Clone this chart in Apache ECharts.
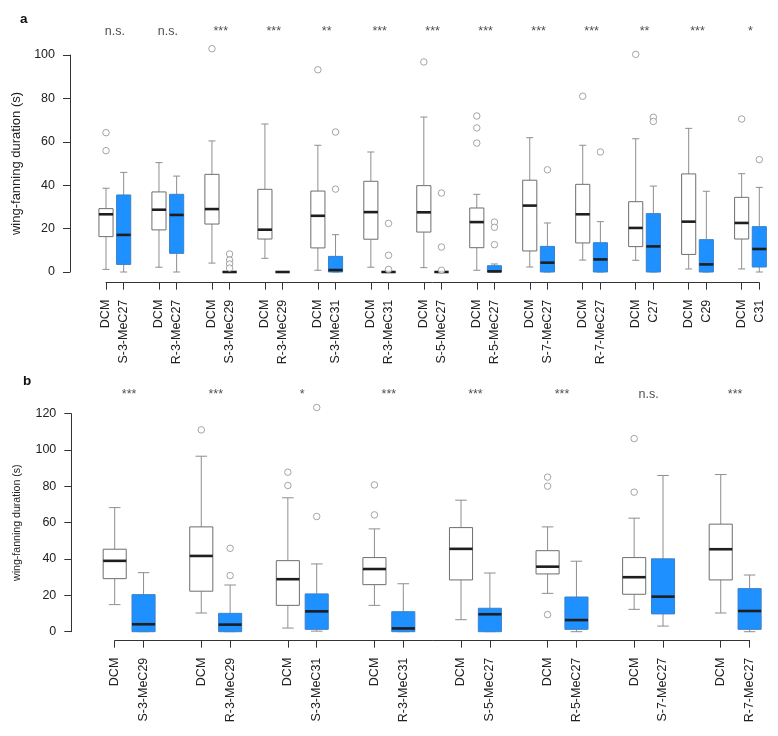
<!DOCTYPE html>
<html><head><meta charset="utf-8">
<script src="https://cdn.jsdelivr.net/npm/echarts@6/dist/echarts.min.js"></script>
<style>html,body{margin:0;padding:0;background:#fff}#c{width:778px;height:736px}</style>
</head><body><div id="c"></div>
<script>
// ---------- Panel a ----------
const treatA = ['S-3-MeC27','R-3-MeC27','S-3-MeC29','R-3-MeC29','S-3-MeC31','R-3-MeC31','S-5-MeC27','R-5-MeC27','S-7-MeC27','R-7-MeC27','C27','C29','C31'];
const sigA = ['n.s.','n.s.','***','***','**','***','***','***','***','***','**','***','*'];
// [min, Q1, median, Q3, max]
const dcmA = [
  [1.2,16.3,26.6,29.2,38.6],
  [2.2,19.4,28.7,36.9,50.4],
  [4.1,22.1,29.0,45.0,60.4],
  [6.3,15.2,19.5,38.1,68.2],
  [0.8,11.1,25.9,37.3,58.4],
  [2.2,15.1,27.6,41.8,55.3],
  [2.0,18.4,27.5,39.8,71.4],
  [0.8,11.2,23.0,29.5,35.8],
  [2.3,9.7,30.6,42.3,61.9],
  [5.5,13.4,26.6,40.4,58.4],
  [5.4,11.7,20.3,32.4,61.4],
  [1.4,8.1,23.2,45.2,66.2],
  [1.4,15.2,22.6,34.4,45.3]
];
const trtA = [
  [0,3.5,17.1,35.5,45.9],
  [0,8.6,26.3,35.8,44.2],
  [0,0,0,0,0],
  [0,0,0,0,0],
  [0,0,0.9,7.2,17.2],
  [0,0,0,0,0],
  [0,0,0,0,0],
  [0,0,0.3,2.9,3.7],
  [0,0,4.3,11.8,22.6],
  [0,0,5.8,13.5,23.2],
  [0,0,11.8,26.9,39.6],
  [0,0,3.5,14.9,37.2],
  [0,2.3,10.6,20.9,39.0]
];
// outliers: [box index (even = DCM, odd = treatment), value]
const outA = [[0,64.2],[0,55.9],[4,102.9],[5,8.3],[5,5.5],[5,3.7],[5,1.8],[8,93.2],[9,64.5],[9,38.2],
  [11,22.4],[11,7.7],[11,1.2],[12,96.8],[13,36.4],[13,11.5],[13,0.8],[14,71.9],[14,66.4],[14,59.4],
  [15,23.0],[15,20.6],[15,12.6],[17,47.1],[18,81.0],[19,55.3],[20,100.3],[21,71.3],[21,69.4],[24,70.5],[25,51.8]];
const ticksA = [0,20,40,60,80,100];

// ---------- Panel b ----------
const treatB = ['S-3-MeC29','R-3-MeC29','S-3-MeC31','R-3-MeC31','S-5-MeC27','R-5-MeC27','S-7-MeC27','R-7-MeC27'];
const sigB = ['***','***','*','***','***','***','n.s.','***'];
const dcmB = [
  [14.9,29.2,39.0,45.4,68.3],
  [10.3,22.3,41.7,57.7,96.6],
  [2.0,14.5,28.9,39.1,73.7],
  [14.5,25.9,34.5,40.8,56.6],
  [6.6,28.5,45.6,57.3,72.4],
  [21.1,31.8,35.8,44.6,57.7],
  [12.3,20.6,30.0,40.8,62.5],
  [10.3,28.5,45.4,59.2,86.5]
];
const trtB = [
  [0,0,4.1,20.4,32.5],
  [0,0,3.9,10.1,25.7],
  [0.3,1.3,11.2,20.8,37.3],
  [0,0,1.8,11.0,26.4],
  [0,0,9.6,12.9,32.3],
  [0,1.3,6.4,19.1,38.8],
  [3.1,9.8,19.3,40.1,86.0],
  [0,1.3,11.4,23.7,31.2]
];
const outB = [[2,111.1],[3,45.9],[3,30.9],[4,87.8],[4,80.5],[5,123.4],[5,63.4],[6,80.8],[6,64.3],
  [10,85.1],[10,80.1],[10,9.4],[12,106.3],[12,76.8]];
const ticksB = [0,20,40,60,80,100,120];

// ---------- build ----------
const FONT = "'Liberation Sans', Arial, sans-serif";
const pos = i => Math.floor(i / 2) * 3 + 1 + (i % 2);

function catLabels(treat) {
  const out = [];
  treat.forEach((t, k) => { out.push('DCM', t); if (k < treat.length - 1) out.push(''); });
  return out;
}
function boxData(dcm, trt) {
  const d = [];
  dcm.forEach((b, k) => { d.push([pos(2 * k)].concat(b, [0])); d.push([pos(2 * k + 1)].concat(trt[k], [1])); });
  return d;
}
function renderBox(params, api) {
  const x = api.value(0), kind = api.value(6);
  const unit = api.size([1, 0])[0];
  const hw = unit * 0.4, cw = unit * 0.2;
  const c = v => api.coord([x, v]);
  const pMin = c(api.value(1)), pQ1 = c(api.value(2)), pMed = c(api.value(3)), pQ3 = c(api.value(4)), pMax = c(api.value(5));
  const cx = pMin[0];
  const wh = { stroke: '#8e8e8e', lineWidth: 1 };
  return {
    type: 'group',
    children: [
      { type: 'line', shape: { x1: cx, y1: pQ3[1], x2: cx, y2: pMax[1] }, style: wh },
      { type: 'line', shape: { x1: cx, y1: pQ1[1], x2: cx, y2: pMin[1] }, style: wh },
      { type: 'line', shape: { x1: cx - cw, y1: pMax[1], x2: cx + cw, y2: pMax[1] }, style: wh },
      { type: 'line', shape: { x1: cx - cw, y1: pMin[1], x2: cx + cw, y2: pMin[1] }, style: wh },
      { type: 'rect', shape: { x: cx - hw, y: pQ3[1], width: 2 * hw, height: pQ1[1] - pQ3[1] },
        style: kind ? { fill: '#1e90ff', stroke: '#3b80c8', lineWidth: 1 } : { fill: '#ffffff', stroke: '#6e6e6e', lineWidth: 1 } },
      { type: 'line', shape: { x1: cx - hw, y1: pMed[1], x2: cx + hw, y2: pMed[1] }, style: { stroke: '#1e1e1e', lineWidth: 2.6 } }
    ]
  };
}

const axisCol = '#333';
function catAxis(gi, labels, off) {
  return {
    type: 'category', gridIndex: gi, data: labels, boundaryGap: false, position: 'bottom', offset: off,
    axisLine: { show: true, onZero: false, lineStyle: { color: axisCol, width: 1 } },
    axisTick: { show: true, length: 7, interval: (i, v) => v !== '', lineStyle: { color: axisCol } },
    axisLabel: { interval: (i, v) => v !== '', rotate: 90, margin: 17, fontSize: 12.5, color: '#222', fontFamily: FONT },
    splitLine: { show: false }
  };
}
function valAxis(gi, max, off, nameSize, gap) {
  return {
    type: 'value', gridIndex: gi, min: 0, max: max, interval: 20, position: 'left', offset: off,
    axisLine: { show: true, onZero: false, lineStyle: { color: axisCol, width: 1 } },
    axisTick: { show: true, length: 7, lineStyle: { color: axisCol } },
    axisLabel: { margin: 15, fontSize: 12.5, color: '#222', fontFamily: FONT },
    splitLine: { show: false },
    name: 'wing-fanning duration (s)', nameLocation: 'middle', nameGap: gap,
    nameTextStyle: { fontSize: nameSize, color: '#222', fontFamily: FONT }
  };
}
function sigSeries(sig, xi, yi, yv) {
  return {
    type: 'scatter', xAxisIndex: xi, yAxisIndex: yi, clip: false, symbolSize: 1, silent: true,
    itemStyle: { color: 'transparent' },
    data: sig.map((s, k) => ({ value: [k * 3 + 1.5, yv], name: s })),
    label: { show: true, position: 'inside', formatter: '{b}', fontSize: 12.5, color: '#1a1a1a', fontFamily: FONT }
  };
}
function outSeries(out, xi, yi) {
  return {
    type: 'scatter', xAxisIndex: xi, yAxisIndex: yi, clip: false, symbol: 'circle', symbolSize: 6.5, z: 5,
    itemStyle: { color: '#ffffff', borderColor: '#8e8e8e', borderWidth: 1 },
    data: out.map(([i, v]) => [pos(i), v])
  };
}

const chart = echarts.init(document.getElementById('c'), null, { renderer: 'canvas' });
chart.setOption({
  animation: false,
  backgroundColor: '#fff',
  title: [
    { text: 'a', left: 15, top: 7, textStyle: { fontSize: 13.5, fontWeight: 'bold', color: '#111', fontFamily: FONT } },
    { text: 'b', left: 18, top: 369, textStyle: { fontSize: 13.5, fontWeight: 'bold', color: '#111', fontFamily: FONT } }
  ],
  grid: [
    { left: 106, right: 18.7, top: 55, height: 217, outerBoundsMode: 'none' },
    { left: 114.7, right: 28.4, top: 413.7, height: 218, outerBoundsMode: 'none' }
  ],
  xAxis: [
    { type: 'value', gridIndex: 0, min: 1, max: 38, show: false, position: 'bottom' },
    catAxis(0, catLabels(treatA), 10.7),
    { type: 'value', gridIndex: 1, min: 1, max: 23, show: false, position: 'bottom' },
    catAxis(1, catLabels(treatB), 9)
  ],
  yAxis: [
    valAxis(0, ticksA[ticksA.length - 1], 36, 13, 47),
    valAxis(1, ticksB[ticksB.length - 1], 43.4, 10.6, 49)
  ],
  series: [
    { type: 'custom', xAxisIndex: 0, yAxisIndex: 0, renderItem: renderBox, data: boxData(dcmA, trtA),
      encode: { x: 0, y: [1, 2, 3, 4, 5] }, clip: false, silent: true },
    outSeries(outA, 0, 0),
    sigSeries(sigA, 0, 0, 110.8),
    { type: 'custom', xAxisIndex: 2, yAxisIndex: 1, renderItem: renderBox, data: boxData(dcmB, trtB),
      encode: { x: 0, y: [1, 2, 3, 4, 5] }, clip: false, silent: true },
    outSeries(outB, 2, 1),
    sigSeries(sigB, 2, 1, 130.7)
  ]
});
</script>
</body></html>
